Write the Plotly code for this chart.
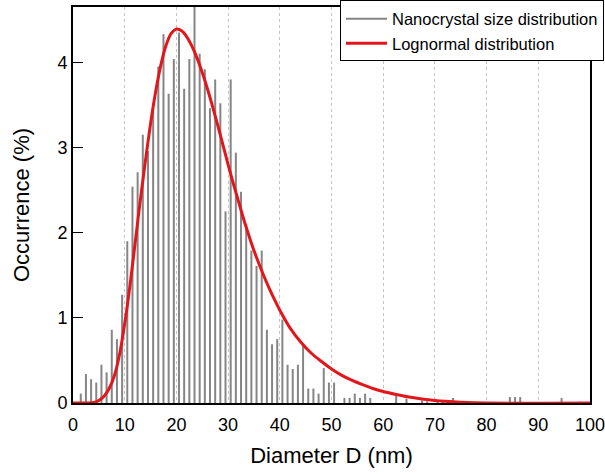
import plotly.graph_objects as go

# histogram of measured diameters (1 nm bins, plotted at bin centres)
diameter_nm = [
    1.5, 2.5, 3.5, 4.5, 5.5, 6.5, 7.5, 8.5, 9.5, 10.5,
    11.5, 12.5, 13.5, 14.5, 15.5, 16.5, 17.5, 18.5, 19.5, 20.5,
    21.5, 22.5, 23.5, 24.5, 25.5, 26.5, 27.5, 28.5, 29.5, 30.5,
    31.5, 32.5, 33.5, 34.5, 35.5, 36.5, 37.5, 38.5, 39.5, 40.5,
    41.5, 42.5, 43.5, 44.5, 45.5, 46.5, 47.5, 48.5, 49.5, 50.5,
    51.5, 52.5, 53.5, 54.5, 55.5, 56.5, 57.5, 58.5, 59.5, 60.5,
    61.5, 62.5, 63.5, 64.5, 65.5, 66.5, 67.5, 68.5, 69.5, 70.5,
    71.5, 72.5, 73.5, 74.5, 75.5, 76.5, 77.5, 78.5, 79.5, 80.5,
    81.5, 82.5, 83.5, 84.5, 85.5, 86.5, 87.5, 88.5, 89.5, 90.5,
    91.5, 92.5, 93.5, 94.5, 95.5,
]
occurrence = [
    0.11, 0.34, 0.28, 0.24, 0.45, 0.36, 0.86, 0.75, 1.27, 1.90,
    2.54, 2.71, 3.15, 2.96, 3.45, 3.95, 4.33, 3.63, 4.04, 4.35,
    3.69, 4.04, 4.80, 4.10, 3.92, 3.46, 3.80, 3.52, 2.25, 3.80,
    2.94, 2.48, 2.10, 1.79, 1.61, 1.79, 0.86, 0.69, 0.75, 0.98,
    0.45, 0.40, 0.45, 0.67, 0.17, 0.17, 0.11, 0.41, 0.24, 0.24,
    0.00, 0.06, 0.06, 0.11, 0.06, 0.11, 0.06, 0.00, 0.00, 0.00,
    0.00, 0.10, 0.00, 0.05, 0.00, 0.00, 0.03, 0.02, 0.00, 0.02,
    0.02, 0.00, 0.06, 0.01, 0.01, 0.01, 0.01, 0.01, 0.01, 0.01,
    0.01, 0.01, 0.01, 0.07, 0.07, 0.07, 0.01, 0.01, 0.01, 0.00,
    0.00, 0.00, 0.00, 0.06, 0.00,
]

# lognormal fit
fit_d = [0, 3, 4, 5, 6, 7, 8, 9, 10, 11, 12, 13, 14, 15, 16, 17, 18, 19, 20,
         21, 22, 23, 24, 25, 26, 27, 28, 29, 30, 31, 32, 33, 34, 35, 36, 37,
         38, 39, 40, 42, 44, 46, 48, 50, 52, 54, 56, 58, 60, 62.5, 65, 70,
         75, 80, 100]
fit_occ = [0.0, 0.0, 0.005, 0.03, 0.08, 0.17, 0.32, 0.57, 0.93, 1.37, 1.87,
           2.37, 2.84, 3.28, 3.66, 3.97, 4.20, 4.34, 4.39, 4.37, 4.30, 4.19,
           4.05, 3.88, 3.69, 3.48, 3.26, 3.03, 2.80, 2.58, 2.37, 2.16, 1.97,
           1.79, 1.63, 1.48, 1.34, 1.21, 1.09, 0.88, 0.72, 0.59, 0.49, 0.40,
           0.325, 0.265, 0.215, 0.17, 0.135, 0.10, 0.07, 0.03, 0.01, 0.0, 0.0]

x_ticks = [0, 10, 20, 30, 40, 50, 60, 70, 80, 90, 100]
y_ticks = [0, 1, 2, 3, 4]

FONT = "Liberation Sans, Arial, sans-serif"

# draw every bin as a vertical stick
stick_x, stick_y = [], []
for d, h in zip(diameter_nm, occurrence):
    stick_x += [d, d, None]
    stick_y += [0, h, None]

sticks = go.Scatter(
    x=stick_x,
    y=stick_y,
    mode="lines",
    line=dict(color="#858585", width=2),
    name="Nanocrystal size distribution",
    hoverinfo="skip",
)

fit = go.Scatter(
    x=fit_d,
    y=fit_occ,
    mode="lines",
    line=dict(color="#e3161b", width=3, shape="spline", smoothing=0.8),
    name="Lognormal distribution",
)

layout = go.Layout(
    width=605,
    height=474,
    margin=dict(l=73, r=15, t=7, b=71, autoexpand=False),
    paper_bgcolor="white",
    plot_bgcolor="white",
    font=dict(family=FONT, color="black"),
    showlegend=True,
    legend=dict(
        xref="container", yref="container",
        x=0.562, y=0.999, xanchor="left", yanchor="top",
        bordercolor="black", borderwidth=1, bgcolor="white",
        font=dict(size=16.5, family=FONT),
        itemwidth=41,
        tracegroupgap=0,
    ),
    xaxis=dict(
        range=[0, 100],
        tickvals=x_ticks,
        ticks="",
        ticklabelstandoff=4,
        ticklabeloverflow="allow",
        tickfont=dict(size=18),
        showgrid=True,
        gridcolor="#c4c4c4",
        griddash="dot",
        gridwidth=1,
        zeroline=False,
        showline=True,
        linecolor="black",
        linewidth=2,
        mirror=True,
        automargin=False,
        title=dict(text="Diameter D (nm)", font=dict(size=22), standoff=14),
    ),
    yaxis=dict(
        range=[0, 4.65],
        tickvals=y_ticks,
        ticks="inside",
        ticklen=10,
        tickwidth=1,
        tickcolor="black",
        tickfont=dict(size=18),
        showgrid=False,
        zeroline=False,
        showline=True,
        linecolor="black",
        linewidth=2,
        mirror=True,
        automargin=False,
        title=dict(text="Occurrence (%)", font=dict(size=22), standoff=22),
    ),
)

fig = go.Figure(data=[sticks, fit], layout=layout)
# the page body has a default 8px margin and may get a scrollbar; drop both
fig.write_html(
    "out.html",
    config={"displayModeBar": False},
    post_script="document.body.style.margin = '0';"
                "document.documentElement.style.overflow = 'hidden';",
)
